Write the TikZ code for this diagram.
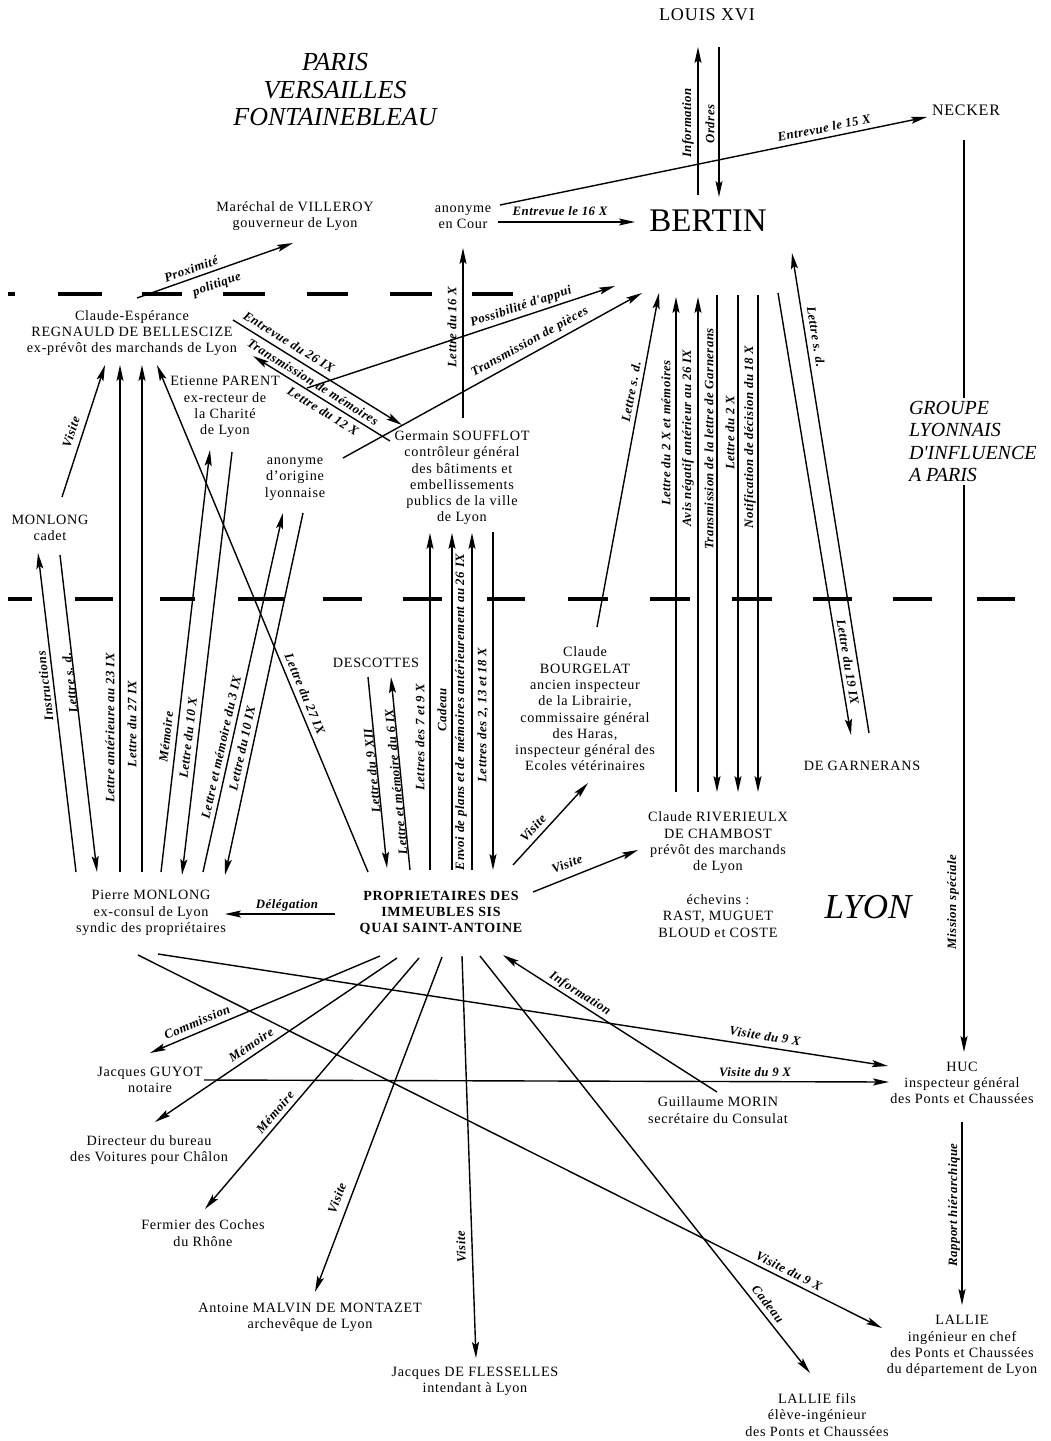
\documentclass[tikz,border=0pt]{standalone}
\usepackage{fontspec}
\setmainfont{Liberation Serif}[LetterSpace=5]
\newfontfamily\lblfam{Liberation Serif}[LetterSpace=4]
\newfontfamily\bigfam{Liberation Serif}
\usetikzlibrary{arrows.meta}
\begin{document}
\begin{tikzpicture}[x=1pt,y=-1pt,
  every node/.style={inner sep=0pt, outer sep=0pt},
  nd/.style={align=center, font=\fontsize{14.2}{16.3}\selectfont},
  lb/.style={font=\lblfam\bfseries\itshape\fontsize{12.8}{13}\selectfont},
  arr/.style={line width=1.4pt, -{Stealth[length=16pt,width=7pt,inset=3pt]}},
  sep/.style={line width=4.5pt}
]
\path[use as bounding box, fill=white] (0,0) rectangle (1051,1441);

% separators
\foreach \a/\b in {8/15,58/102,142/182,223/265,307/348,390/432,472/513}
  \draw[sep] (\a,294) -- (\b,294);
\foreach \a/\b in {8/32,75/113,160/195,238/285,323/362,403/442,487/525,568/608,650/690,732/772,813/852,893/932,977/1015}
  \draw[sep] (\a,599) -- (\b,599);

% nodes
\node[font=\bigfam\itshape\fontsize{26}{27.5}\selectfont, align=center] (paris) at (335,90) {PARIS\\VERSAILLES\\FONTAINEBLEAU};
\node[font=\fontsize{18}{20}\selectfont] (louis) at (707,15) {LOUIS XVI};
\node[font=\fontsize{16}{18}\selectfont] (necker) at (966,110) {NECKER};
\node[font=\bigfam\fontsize{33}{36}\selectfont] (bertin) at (708,221) {BERTIN};
\node[nd] (anoncour) at (463,217) {anonyme\\en Cour};
\node[nd] (villeroy) at (295,216) {Maréchal de VILLEROY\\gouverneur de Lyon};
\node[nd] (ce) at (132,333) {Claude-Espérance\\REGNAULD DE BELLESCIZE\\ex-prévôt des marchands de Lyon};
\node[nd] (parent) at (225,407) {Etienne PARENT\\ex-recteur de\\la Charité\\de Lyon};
\node[nd] (anonlyon) at (295,479) {anonyme\\d'origine\\lyonnaise};
\node[nd] (soufflot) at (462,478) {Germain SOUFFLOT\\contrôleur général\\des bâtiments et\\embellissements\\publics de la ville\\de Lyon};
\node[nd] (cadet) at (50,528) {MONLONG\\cadet};
\node[nd] (descottes) at (376,663) {DESCOTTES};
\node[nd] (bourgelat) at (585,709) {Claude\\BOURGELAT\\ancien inspecteur\\de la Librairie,\\commissaire général\\des Haras,\\inspecteur général des\\Ecoles vétérinaires};
\node[nd] (garnerans) at (862,766) {DE GARNERANS};
\node[nd] (riverieulx) at (718,843) {Claude RIVERIEULX\\DE CHAMBOST\\prévôt des marchands\\de Lyon};
\node[nd] (echevins) at (718,916) {échevins :\\RAST, MUGUET\\BLOUD et COSTE};
\node[font=\bigfam\itshape\fontsize{35}{38}\selectfont] (lyon) at (868,907) {LYON};
\node[nd] (pmonlong) at (151,913) {Pierre MONLONG\\ex-consul de Lyon\\syndic des propriétaires};
\node[nd, font=\bfseries\fontsize{14}{16.3}\selectfont] (prop) at (441,913) {PROPRIETAIRES DES\\IMMEUBLES SIS\\QUAI SAINT-ANTOINE};
\node[nd] (guyot) at (150,1080) {Jacques GUYOT\\notaire};
\node[nd] (directeur) at (149,1150) {Directeur du bureau\\des Voitures pour Châlon};
\node[nd] (fermier) at (203,1233) {Fermier des Coches\\du Rhône};
\node[nd] (malvin) at (310,1317) {Antoine MALVIN DE MONTAZET\\archevêque de Lyon};
\node[nd] (flesselles) at (475,1381) {Jacques DE FLESSELLES\\intendant à Lyon};
\node[nd] (lalliefils) at (817,1415) {LALLIE fils\\élève-ingénieur\\des Ponts et Chaussées};
\node[nd] (lallie) at (962,1346) {LALLIE\\ingénieur en chef\\des Ponts et Chaussées\\du département de Lyon};
\node[nd] (huc) at (962,1083) {HUC\\inspecteur général\\des Ponts et Chaussées};
\node[nd] (morin) at (718,1110) {Guillaume MORIN\\secrétaire du Consulat};

% connectors, top
\draw[arr] ([shift={(-10,-26)}]bertin.center) -- ([shift={(-9,32)}]louis.center);
\node[lb,rotate=90] (l01) at (688,123) {Information};
\draw[arr] ([shift={(12,32)}]louis.center) -- ([shift={(11,-24)}]bertin.center);
\node[lb,rotate=90] (l02) at (710,124) {Ordres};
\draw[arr] ([shift={(37,-12)}]anoncour.center) -- ([shift={(-39,7)}]necker.center);
\node[lb,rotate=11.6] (l03) at (824,128) {Entrevue le 15 X};
\draw[arr] ([shift={(35,5)}]anoncour.center) -- ([shift={(-73,1)}]bertin.center);
\node[lb] (l04) at (560,211) {Entrevue le 16 X};
\draw[arr] ([shift={(5,-35)}]ce.center) -- ([shift={(-2,27)}]villeroy.center);
\node[lb,rotate=19.4] (l05a) at (191,269) {Proximité};
\node[lb,rotate=19.4] (l05b) at (217,285) {politique};
\draw[arr] ([shift={(1,-60)}]soufflot.center) -- ([shift={(0,31)}]anoncour.center);
\node[lb,rotate=90] (l06) at (452,327) {Lettre du 16 X};
\draw[arr] ([shift={(175,55)}]ce.center) -- ([shift={(-93,65)}]bertin.center);
\node[lb,rotate=18.3] (l07) at (521,307) {Possibilité d'appui};
\draw[arr] ([shift={(48,-21)}]anonlyon.center) -- ([shift={(-66,72)}]bertin.center);
\node[lb,rotate=28.9] (l08) at (530,342) {Transmission de pièces};
\draw[arr] ([shift={(101,-13)}]ce.center) -- ([shift={(-60,-53)}]soufflot.center);
\node[lb,rotate=-31.9] (l09a) at (289,342) {Entrevue du 26 IX};
\node[lb,rotate=-31.9] (l09b) at (313,382) {Transmission de mémoires};
\draw[arr] ([shift={(-72,-37)}]soufflot.center) -- ([shift={(121,23)}]ce.center);
\node[lb,rotate=-31.8] (l10) at (323,411) {Lettre du 12 X};
\draw[arr] ([shift={(12,-82)}]bourgelat.center) -- ([shift={(-49,72)}]bertin.center);
\node[lb,rotate=79.5] (l11) at (631,392) {Lettre s. d.};
\draw[arr] ([shift={(-42,-51)}]riverieulx.center) -- ([shift={(-32,76)}]bertin.center);
\node[lb,rotate=90] (l12) at (666,433) {Lettre du 2 X et mémoires};
\draw[arr] ([shift={(-20,-51)}]riverieulx.center) -- ([shift={(-10,76)}]bertin.center);
\node[lb,rotate=90] (l13) at (688,438) {Avis négatif antérieur au 26 IX};
\draw[arr] ([shift={(9,74)}]bertin.center) -- ([shift={(-1,-51)}]riverieulx.center);
\node[lb,rotate=90] (l14) at (709,439) {Transmission de la lettre de Garnerans};
\draw[arr] ([shift={(30,74)}]bertin.center) -- ([shift={(20,-51)}]riverieulx.center);
\node[lb,rotate=90] (l15) at (730,433) {Lettre du 2 X};
\draw[arr] ([shift={(50,74)}]bertin.center) -- ([shift={(40,-51)}]riverieulx.center);
\node[lb,rotate=90] (l16) at (750,437) {Notification de décision du 18 X};
\draw[arr] ([shift={(70,72)}]bertin.center) -- ([shift={(-11,-31)}]garnerans.center);
\node[lb,rotate=-80.6] (l17) at (848,662) {Lettre du 19 IX};
\draw[arr] ([shift={(7,-33)}]garnerans.center) -- ([shift={(84,32)}]bertin.center);
\node[lb,rotate=-80.9] (l18) at (816,337) {Lettre s. d.};
\draw[arr] ([shift={(-2,30)}]necker.center) -- ([shift={(2,-31)}]huc.center);
\node[lb,rotate=90] (l19) at (953,902) {Mission spéciale};
\node[font=\bigfam\itshape\fontsize{20}{22.3}\selectfont, align=left, anchor=west, fill=white, inner ysep=3pt] (groupe) at (909,441.5) {GROUPE\\LYONNAIS\\D'INFLUENCE\\A PARIS};
\draw[arr] ([shift={(0,39)}]huc.center) -- ([shift={(0,-41)}]lallie.center);
\node[lb,rotate=90] (l20) at (954,1205) {Rapport hiérarchique};

% connectors, Lyon
\draw[arr] ([shift={(-75,-41)}]pmonlong.center) -- ([shift={(-12,25)}]cadet.center);
\node[lb,rotate=96.8] (l21) at (45,686) {Instructions};
\draw[arr] ([shift={(10,27)}]cadet.center) -- ([shift={(-54,-41)}]pmonlong.center);
\node[lb,rotate=96.7] (l22) at (70,683) {Lettre s. d.};
\draw[arr] ([shift={(12,-31)}]cadet.center) -- ([shift={(-27,32)}]ce.center);
\node[lb,rotate=72] (l23) at (71,432) {Visite};
\draw[arr] ([shift={(-31,-41)}]pmonlong.center) -- ([shift={(-12,32)}]ce.center);
\node[lb,rotate=90] (l24) at (110,728) {Lettre antérieure au 23 IX};
\draw[arr] ([shift={(-9,-41)}]pmonlong.center) -- ([shift={(10,32)}]ce.center);
\node[lb,rotate=90] (l25) at (132,724) {Lettre du 27 IX};
\draw[arr] ([shift={(10,-41)}]pmonlong.center) -- ([shift={(-15,43)}]parent.center);
\node[lb,rotate=83.4] (l26) at (166,737) {Mémoire};
\draw[arr] ([shift={(7,45)}]parent.center) -- ([shift={(31,-38)}]pmonlong.center);
\node[lb,rotate=83.3] (l27) at (188,738) {Lettre du 10 X};
\draw[arr] ([shift={(52,-41)}]pmonlong.center) -- ([shift={(-12,34)}]anonlyon.center);
\node[lb,rotate=77.4] (l28) at (221,747) {Lettre et mémoire du 3 IX};
\draw[arr] ([shift={(8,34)}]anonlyon.center) -- ([shift={(74,-38)}]pmonlong.center);
\node[lb,rotate=77.8] (l29) at (242,748) {Lettre du 10 IX};
\draw[arr] ([shift={(-73,-41)}]prop.center) -- ([shift={(25,32)}]ce.center);
\node[lb,rotate=-67.4] (l30) at (305,694) {Lettre du 27 IX};
\draw[arr] ([shift={(-8,14)}]descottes.center) -- ([shift={(-54,-45)}]prop.center);
\node[lb,rotate=95.7] (l31) at (372,771) {Lettre du 9 XII};
\draw[arr] ([shift={(-31,-43)}]prop.center) -- ([shift={(15,14)}]descottes.center);
\node[lb,rotate=95.6] (l32) at (396,782) {Lettre et mémoire du 6 IX};
\draw[arr] ([shift={(-11,-43)}]prop.center) -- ([shift={(-32,55)}]soufflot.center);
\node[lb,rotate=90] (l33) at (420,737) {Lettres des 7 et 9 X};
\draw[arr] ([shift={(11,-43)}]prop.center) -- ([shift={(-10,55)}]soufflot.center);
\node[lb,rotate=90] (l34) at (442,710) {Cadeau};
\draw[arr] ([shift={(31,-43)}]prop.center) -- ([shift={(10,55)}]soufflot.center);
\node[lb,rotate=90] (l35) at (461,712) {Envoi de plans et de mémoires antérieurement au 26 IX};
\draw[arr] ([shift={(31,54)}]soufflot.center) -- ([shift={(52,-43)}]prop.center);
\node[lb,rotate=90] (l36) at (483,715) {Lettres des 2, 13 et 18 X};
\draw[arr] ([shift={(72,-48)}]prop.center) -- ([shift={(3,74)}]bourgelat.center);
\node[lb,rotate=47.6] (l37) at (533,828) {Visite};
\draw[arr] ([shift={(92,-21)}]prop.center) -- ([shift={(-80,7)}]riverieulx.center);
\node[lb,rotate=21.8] (l38) at (567,864) {Visite};
\draw[arr] ([shift={(-106,1)}]prop.center) -- ([shift={(74,1)}]pmonlong.center);
\node[lb] (l39) at (287,905) {Délégation};
\draw[arr] ([shift={(-61,43)}]prop.center) -- ([shift={(0,-27)}]guyot.center);
\node[lb,rotate=22.9] (l40) at (197,1022) {Commission};
\draw[arr] ([shift={(-44,45)}]prop.center) -- ([shift={(6,-28)}]directeur.center);
\node[lb,rotate=34.1] (l41) at (251,1045) {Mémoire};
\draw[arr] ([shift={(-22,45)}]prop.center) -- ([shift={(2,-24)}]fermier.center);
\node[lb,rotate=49.6] (l42) at (275,1112) {Mémoire};
\draw[arr] ([shift={(1,44)}]prop.center) -- ([shift={(5,-25)}]malvin.center);
\node[lb,rotate=69.2] (l43) at (337,1198) {Visite};
\draw[arr] ([shift={(21,43)}]prop.center) -- ([shift={(1,-23)}]flesselles.center);
\node[lb,rotate=92] (l44) at (461,1247) {Visite};
\draw[arr] ([shift={(39,43)}]prop.center) -- ([shift={(-7,-42)}]lalliefils.center);
\node[lb,rotate=-51.6] (l45) at (768,1304) {Cadeau};
\draw[arr] ([shift={(-1,-18)}]morin.center) -- ([shift={(62,42)}]prop.center);
\node[lb,rotate=-32.6] (l46) at (580,994) {Information};
\draw[arr] ([shift={(7,41)}]pmonlong.center) -- ([shift={(-74,-17)}]huc.center);
\node[lb,rotate=-8.7] (l47) at (765,1036) {Visite du 9 X};
\draw[arr] ([shift={(54,0)}]guyot.center) -- ([shift={(-73,-1)}]huc.center);
\node[lb] (l48) at (755,1072) {Visite du 9 X};
\draw[arr] ([shift={(-13,42)}]pmonlong.center) -- ([shift={(-80,-18)}]lallie.center);
\node[lb,rotate=-26.6] (l49) at (789,1271) {Visite du 9 X};
\end{tikzpicture}
\end{document}
